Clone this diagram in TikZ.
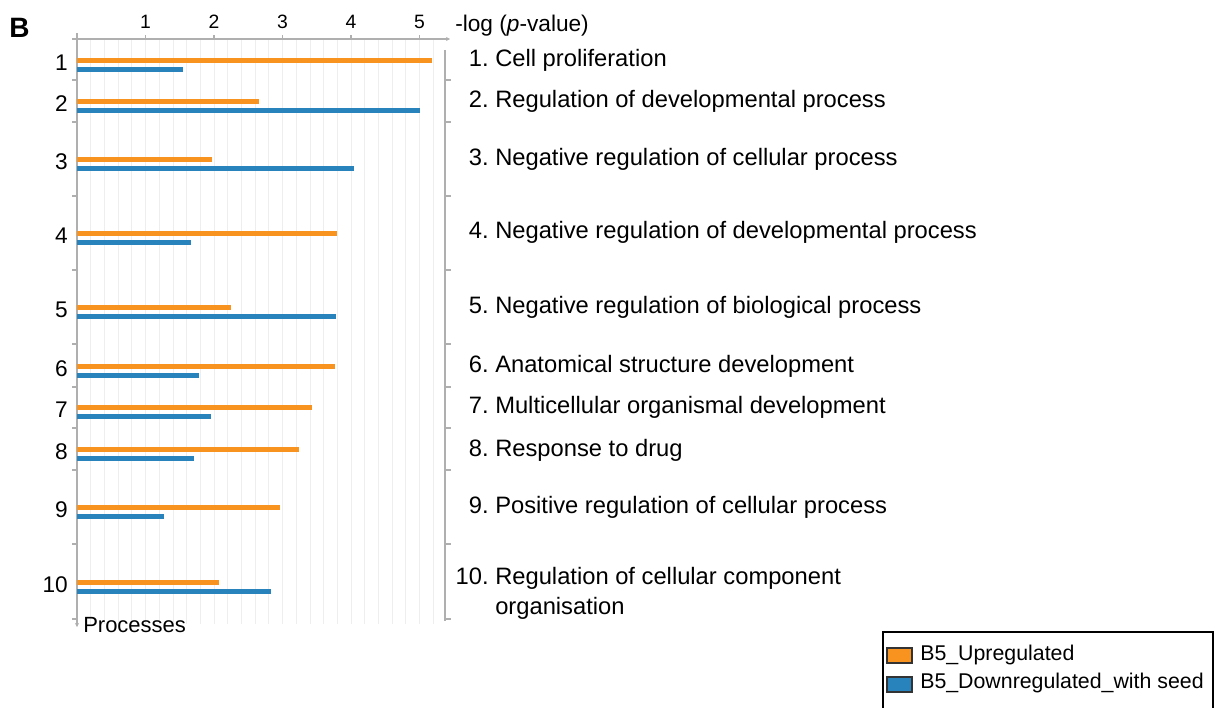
\documentclass[tikz,border=0pt]{standalone}
\usepackage{fontspec}
\setmainfont{Liberation Sans}
\usetikzlibrary{arrows.meta}

\definecolor{upor}{RGB}{247,147,30}
\definecolor{downbl}{RGB}{40,130,188}
\definecolor{axgray}{RGB}{175,175,175}
\definecolor{gridgray}{RGB}{238,238,238}

\tikzset{
  upbar/.style={fill=upor},
  downbar/.style={fill=downbl},
  axis/.style={draw=axgray, line width=0.9pt},
  rownum/.style={font=\fontsize{17}{20}\selectfont, inner sep=0pt},
  lbl/.style={font=\fontsize{17.8}{21}\selectfont, inner sep=0pt},
  ticklbl/.style={font=\fontsize{14.5}{17}\selectfont, inner sep=0pt, anchor=base},
  legtxt/.style={font=\fontsize{16}{19}\selectfont, inner sep=0pt, anchor=base west},
  swatch/.style={draw=black!80, line width=0.8pt, minimum width=18.75pt, minimum height=11.25pt, inner sep=0pt}
}

\begin{document}
\begin{tikzpicture}[x=0.75pt,y=-0.75pt]
\useasboundingbox (0,0) rectangle (1217,707);

% grid
\foreach \g in {0.2,0.4,...,5.3}
  \draw[gridgray, line width=0.6pt] ({77+68.5*\g},39) -- ({77+68.5*\g},624);

% axes
\draw[axis, -{Stealth[length=3pt,width=3pt]}] (74,39) -- (450,39);
\draw[axis, -{Stealth[length=3pt,width=3pt]}] (77,33) -- (77,627);
\draw[axis] (445,50) -- (445,621);
\foreach \t in {39,80,122,196,270,344,387,428,470,544,619}
  \draw[axis] (72,\t) -- (77,\t);
\foreach \t in {80,122,196,270,344,387,428,470,544,619}
  \draw[axis] (445,\t) -- (451,\t);
\foreach \v in {1,...,5} {
  \draw[axis] ({77+68.5*\v},35) -- ({77+68.5*\v},39);
  \node[ticklbl] (x\v) at ({77+68.5*\v},28) {\v};
}
\node[lbl, anchor=base west, font=\fontsize{17}{20}\selectfont] (ttl) at (455,31) {-log (\textit{p}-value)};
\node[anchor=base west, inner sep=0pt, font=\bfseries\fontsize{21}{24}\selectfont] (pan) at (9,37) {B};
\node[anchor=base west, inner sep=0pt, font=\fontsize{16.5}{19}\selectfont] (proc) at (83,632) {Processes};

% bars and labels
\foreach \i/\oy/\o/\b/\ly/\txt in {
    1/60/5.18/1.55/66.5/Cell proliferation,
    2/101/2.66/5.01/107.5/Regulation of developmental process,
    3/159/1.97/4.04/165/Negative regulation of cellular process,
    4/233/3.80/1.66/238.5/Negative regulation of developmental process,
    5/307.5/2.25/3.78/313/Negative regulation of biological process,
    6/366/3.77/1.78/372/Anatomical structure development,
    7/407.5/3.43/1.95/413/Multicellular organismal development,
    8/449/3.24/1.71/456/Response to drug,
    9/507.5/2.96/1.27/513/Positive regulation of cellular process,
    10/582/2.07/2.83/584/Regulation of cellular component} {
  \fill[upbar] (77,{\oy-2.5}) rectangle ({77+68.5*\o},{\oy+2.5});
  \fill[downbar] (77,{\oy+6.5}) rectangle ({77+68.5*\b},{\oy+11.5});
  \node[rownum, anchor=base east] (n\i) at (68,{\oy+10}) {\i};
  \node[lbl, anchor=base east] (k\i) at (489,\ly) {\i.};
  \node[lbl, anchor=base west] (t\i) at (495,\ly) {\txt};
}
\node[lbl, anchor=base west] (t10b) at (495,614) {organisation};

% legend
\draw[black, line width=1.5pt] (883,632) rectangle (1213,712);
\node[swatch, fill=upor] (sw1) at (899.5,655.5) {};
\node[legtxt] (lg1) at (920,660) {B5\_Upregulated};
\node[swatch, fill=downbl] (sw2) at (899.5,684.5) {};
\node[legtxt] (lg2) at (920,688) {B5\_Downregulated\_with seed};
\end{tikzpicture}
\end{document}
